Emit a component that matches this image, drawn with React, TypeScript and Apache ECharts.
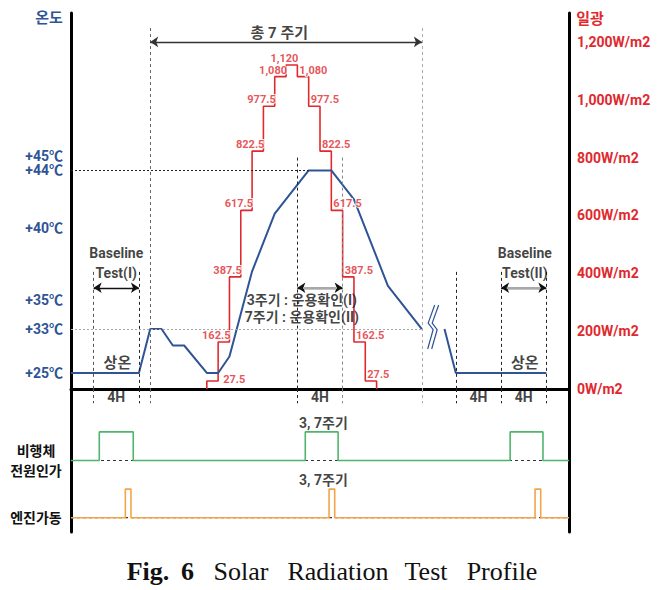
import React, { useEffect, useRef } from 'react';
import * as echarts from 'echarts';

// ---------- data ----------
const X_MAX_HOURS = 44;
const TEMP_TICKS = [25, 33, 35, 40, 44, 45];
const IRR_TICKS = [0, 200, 400, 600, 800, 1000, 1200];

// temperature profile (hours, degC), split by the break mark
const TEMP_A_HOURS = [0, 6, 7, 8, 9, 10, 12, 13, 14, 16, 18, 21, 23, 25, 28, 31];
const TEMP_A_VALUES = [25, 25, 33, 33, 30, 30, 25, 25, 28, 37, 41, 44, 44, 42, 36, 33];
const TEMP_B_HOURS = [33, 34, 42];
const TEMP_B_VALUES = [33, 25, 25];
const BREAK_MARK = [32, 33];

// solar irradiance steps, one per hour
const SOLAR_START_HOUR = 12;
const SOLAR_STEPS = [27.5, 162.5, 387.5, 617.5, 822.5, 977.5, 1080, 1120, 1080, 977.5, 822.5, 617.5, 387.5, 162.5, 27.5];

// signal pulses (start, end hours)
const POWER_PULSES = [[2.5, 5.5], [20.7, 23.6], [38.8, 41.7]];
const ENGINE_PULSES = [[4.8, 5.3], [22.8, 23.3], [41.0, 41.5]];

// time markers (hours) and their top ends on the W/m2 scale
const MARKER_HOURS = [2, 6, 7, 20, 24, 31, 34, 38, 42];
const MARKER_TOPS = [405, 405, 1248, 800, 800, 1248, 405, 405, 405];
const CYCLE_SPAN = [7, 31];
const BASELINE1_SPAN = [2, 6];
const CHECK_SPAN = [20, 24];
const BASELINE2_SPAN = [38, 42];
const FOUR_H_WINDOWS = [[2, 6], [20, 24], [34, 38], [38, 42]];

// ---------- axis break for temperature (25..33 compressed) ----------
const BREAK_TOP = 33;
const BREAK_SCALE = 0.381;
const tempToAxis = (t: number) => (t >= BREAK_TOP ? t : BREAK_TOP - (BREAK_TOP - t) * BREAK_SCALE);
const axisToTemp = (d: number) => (d >= BREAK_TOP ? d : BREAK_TOP - (BREAK_TOP - d) / BREAK_SCALE);
const TEMP_AXIS_MIN = 28.84;
const TEMP_AXIS_MAX = 54.92;

const POWER_LOW = 5, POWER_HIGH = 7, ENGINE_LOW = 1, ENGINE_HIGH = 3;

// ---------- styles ----------
const BLUE = '#2F5496';
const RED = '#E0292E';
const GREEN = '#4FB56C';
const ORANGE = '#F2A44A';
const FONT = "Roboto, 'Noto Sans CJK KR', sans-serif";
const SERIF = "'Liberation Serif', 'DejaVu Serif', serif";

const pulsesToLine = (pulses: number[][], low: number, high: number) => {
  const pts: (number | string)[][] = [[0, low]];
  pulses.forEach(([a, b]) => {
    pts.push([a, low], [a, high], [b, high], [b, low]);
  });
  pts.push([X_MAX_HOURS, low]);
  return pts;
};

export default function App() {
  const ref = useRef<HTMLDivElement>(null);
  useEffect(() => {
    const chart = echarts.init(ref.current!, null, { renderer: 'svg' });

    const tempData: any[] = TEMP_A_HOURS.map((h, i) => [h, tempToAxis(TEMP_A_VALUES[i])]);
    tempData.push([BREAK_MARK[0], '-']);
    TEMP_B_HOURS.forEach((h, i) => tempData.push([h, tempToAxis(TEMP_B_VALUES[i])]));

    const solarData: number[][] = [[SOLAR_START_HOUR, 0]];
    SOLAR_STEPS.forEach((v, i) => solarData.push([SOLAR_START_HOUR + i, v]));
    solarData.push([SOLAR_START_HOUR + SOLAR_STEPS.length, 0]);

    const half = Math.ceil(SOLAR_STEPS.length / 2);
    const solarLabels = SOLAR_STEPS.map((v, i) => {
      if (i === 0) {
        return {
          value: [SOLAR_START_HOUR + 1, v],
          label: { position: 'right', align: 'left', verticalAlign: 'middle', distance: 5, offset: [0, -2] },
        };
      }
      if (i < half) {
        return {
          value: [SOLAR_START_HOUR + i + 1, v],
          label: { position: 'top', align: 'right', distance: 1, offset: [1, 0] },
        };
      }
      return {
        value: [SOLAR_START_HOUR + i, v],
        label: { position: 'top', align: 'left', distance: 1, offset: [2, 0] },
      };
    });

    const dash = (color: string) => ({ color, type: [3, 3], width: 1 });
    const markerColors = ['#555', '#222', '#666', '#222', '#888', '#aaa', '#222', '#222', '#222'];

    const verticals = MARKER_HOURS.map((h, i) => [
      { coord: [h, MARKER_TOPS[i]], lineStyle: dash(markerColors[i]) },
      { coord: [h, 0] },
    ]);
    const verticalsLow = MARKER_HOURS.map((h, i) => [
      { coord: [h, 10], lineStyle: dash(markerColors[i]) },
      { coord: [h, 9] },
    ]);

    const arrow = (span: number[], y: number, color: string) => [
      { coord: [span[0], y], symbol: 'arrow', symbolSize: 8, lineStyle: { color, width: 1.3, type: 'solid' } },
      { coord: [span[1], y], symbol: 'arrow', symbolSize: 8 },
    ];
    const shaft = (span: number[], y: number, color: string) => [
      { coord: [span[0] + 0.5, y], lineStyle: { color, width: 2, type: 'solid' } },
      { coord: [span[1] - 0.5, y] },
    ];

    const textStyle = { color: '#111', fontWeight: 'bold', fontSize: 14, fontFamily: FONT };

    const upperTexts = [
      { name: '총 7 주기', value: [18.4, 1231], label: { fontSize: 15 } },
      { name: 'Baseline\nTest(I)', value: [4, 436], label: { lineHeight: 20 } },
      { name: 'Baseline\nTest(II)', value: [40.1, 436], label: { lineHeight: 20 } },
      { name: '3주기 : 운용확인(I)\n7주기 : 운용확인(II)', value: [20.4, 278], label: { lineHeight: 17 } },
      { name: '상온', value: [4.1, 90], label: { fontSize: 15 } },
      { name: '상온', value: [40.1, 90], label: { fontSize: 15 } },
    ];
    const lowerTexts: any[] = FOUR_H_WINDOWS.map((w) => ({ name: '4H', value: [(w[0] + w[1]) / 2, 9.44] }));
    lowerTexts.push({ name: '3, 7주기', value: [22.3, 7.62] });
    lowerTexts.push({ name: '3, 7주기', value: [22.3, 3.64] });

    const option: any = {
      animation: false,
      backgroundColor: '#fff',
      grid: [
        { left: 71, right: 96, top: 13, height: 376 },
        { left: 71, right: 96, top: 389, height: 143 },
      ],
      xAxis: [
        {
          gridIndex: 0, type: 'value', min: 0, max: X_MAX_HOURS,
          axisLine: { show: true, onZero: false, lineStyle: { color: '#000', width: 3 } },
          axisTick: { show: false }, axisLabel: { show: false }, splitLine: { show: false },
        },
        { gridIndex: 1, type: 'value', min: 0, max: X_MAX_HOURS, show: false },
      ],
      yAxis: [
        {
          gridIndex: 0, type: 'value', position: 'left', min: TEMP_AXIS_MIN, max: TEMP_AXIS_MAX,
          axisLine: { show: true, onZero: false, lineStyle: { color: '#000', width: 3 } },
          axisTick: { show: false }, splitLine: { show: false },
          axisLabel: {
            customValues: TEMP_TICKS.map(tempToAxis),
            formatter: (v: number) => '+' + Math.round(axisToTemp(v)) + '℃',
            color: BLUE, fontWeight: 'bold', fontSize: 14, fontFamily: FONT, margin: 8,
          },
        },
        {
          gridIndex: 0, type: 'value', position: 'right', min: 0, max: 1300,
          axisLine: { show: true, onZero: false, lineStyle: { color: '#000', width: 3 } },
          axisTick: { show: false }, splitLine: { show: false },
          axisLabel: {
            customValues: IRR_TICKS,
            formatter: (v: number) => v.toLocaleString('en-US') + 'W/m2',
            color: RED, fontWeight: 'bold', fontSize: 14, fontFamily: FONT, margin: 8,
          },
        },
        {
          gridIndex: 1, type: 'value', position: 'left', min: 0, max: 10,
          axisLine: { show: true, onZero: false, lineStyle: { color: '#000', width: 3 } },
          axisTick: { show: false }, splitLine: { show: false },
          axisLabel: {
            customValues: [ENGINE_LOW, POWER_LOW],
            formatter: (v: number) => (v === POWER_LOW ? '비행체\n전원인가' : '엔진가동'),
            color: '#111', fontWeight: 'bold', fontSize: 14, fontFamily: FONT,
            align: 'center', margin: 35, lineHeight: 20,
          },
        },
        {
          gridIndex: 1, type: 'value', position: 'right', min: 0, max: 10,
          axisLine: { show: true, onZero: false, lineStyle: { color: '#000', width: 3 } },
          axisTick: { show: false }, splitLine: { show: false }, axisLabel: { show: false },
        },
      ],
      series: [
        {
          type: 'line', name: 'reference lines', xAxisIndex: 0, yAxisIndex: 0, data: [],
          markLine: {
            silent: true, symbol: 'none', label: { show: false },
            data: [
              [{ coord: [0, tempToAxis(44)], lineStyle: { color: '#222', type: [2, 2], width: 1 } }, { coord: [21, tempToAxis(44)] }],
              [{ coord: [0, tempToAxis(33)], lineStyle: { color: '#aaa', type: [2, 2], width: 1 } }, { coord: [31, tempToAxis(33)] }],
            ],
          },
        },
        {
          type: 'line', name: '일광', xAxisIndex: 0, yAxisIndex: 1, step: 'end',
          data: solarData, showSymbol: false, lineStyle: { color: RED, width: 1.6 }, z: 3,
          markLine: {
            silent: true, symbol: 'none', label: { show: false },
            data: [
              ...verticals,
              arrow(CYCLE_SPAN, 1200, '#333'),
              arrow(BASELINE1_SPAN, 350, '#111'),
              arrow(CHECK_SPAN, 350, '#111'),
              arrow(BASELINE2_SPAN, 350, '#111'),
              shaft(CHECK_SPAN, 350, '#a8a8a8'),
              shaft(BASELINE2_SPAN, 350, '#a8a8a8'),
            ],
          },
        },
        {
          type: 'line', name: '온도', xAxisIndex: 0, yAxisIndex: 0,
          data: tempData, showSymbol: false, connectNulls: false,
          lineStyle: { color: BLUE, width: 2 }, z: 4,
        },
        {
          type: 'custom', name: 'break', xAxisIndex: 0, yAxisIndex: 0,
          data: [[BREAK_MARK[0], tempToAxis(BREAK_MARK[1])]], z: 4, silent: true,
          renderItem: (_p: any, api: any) => {
            const c = api.coord([api.value(0), api.value(1)]);
            const shape = [[3.5, -24], [-3, -6], [2, 0.5], [-3.5, 20]];
            return {
              type: 'group',
              children: [-2, 2].map((dx) => ({
                type: 'polyline',
                shape: { points: shape.map(([x, y]) => [c[0] + x + dx, c[1] + y]) },
                style: { stroke: BLUE, lineWidth: 1.2, fill: null },
              })),
            };
          },
        },
        {
          type: 'scatter', name: 'solar labels', xAxisIndex: 0, yAxisIndex: 1, symbolSize: 0, silent: true, z: 5,
          data: solarLabels,
          label: {
            show: true, color: RED, fontSize: 11, fontWeight: 'bold', fontFamily: FONT,
            textBorderColor: '#fff', textBorderWidth: 2,
            formatter: (p: any) => p.value[1].toLocaleString('en-US'),
          },
        },
        {
          type: 'scatter', name: 'notes', xAxisIndex: 0, yAxisIndex: 1, symbolSize: 0, silent: true, z: 5,
          data: upperTexts,
          label: { show: true, position: 'inside', formatter: '{b}', ...textStyle },
        },
        {
          type: 'line', name: 'signal baselines', xAxisIndex: 1, yAxisIndex: 2, showSymbol: false,
          data: [[0, POWER_LOW], [X_MAX_HOURS, POWER_LOW], [X_MAX_HOURS, '-'], [0, ENGINE_LOW], [X_MAX_HOURS, ENGINE_LOW]],
          lineStyle: { color: '#333', width: 1.2, type: [3, 3] },
          markLine: { silent: true, symbol: 'none', label: { show: false }, data: verticalsLow },
        },
        {
          type: 'line', name: '비행체 전원인가', xAxisIndex: 1, yAxisIndex: 2, showSymbol: false,
          data: pulsesToLine(POWER_PULSES, POWER_LOW, POWER_HIGH), lineStyle: { color: GREEN, width: 1.6 },
        },
        {
          type: 'line', name: '엔진가동', xAxisIndex: 1, yAxisIndex: 2, showSymbol: false,
          data: pulsesToLine(ENGINE_PULSES, ENGINE_LOW, ENGINE_HIGH), lineStyle: { color: ORANGE, width: 1.6 },
        },
        {
          type: 'scatter', name: 'lower notes', xAxisIndex: 1, yAxisIndex: 2, symbolSize: 0, silent: true,
          data: lowerTexts,
          label: { show: true, position: 'inside', formatter: '{b}', ...textStyle },
        },
      ],
      graphic: [
        { type: 'text', x: 49, y: 18, style: { text: '온도', fill: BLUE, font: `bold 15px ${FONT}`, textAlign: 'center', textVerticalAlign: 'middle' } },
        { type: 'text', x: 590, y: 19, style: { text: '일광', fill: RED, font: `bold 15px ${FONT}`, textAlign: 'center', textVerticalAlign: 'middle' } },
        ...[
          ['Fig.', 148, true], ['6', 187.5, true], ['Solar', 241, false],
          ['Radiation', 338, false], ['Test', 426, false], ['Profile', 502, false],
        ].map(([t, x, b]) => ({
          type: 'text', x, y: 571,
          style: {
            text: t, fill: '#111', font: `${b ? 'bold ' : ''}26px ${SERIF}`,
            textAlign: 'center', textVerticalAlign: 'middle',
          },
        })),
      ],
    };

    chart.setOption(option);
    return () => chart.dispose();
  }, []);

  return <div ref={ref} style={{ position: 'absolute', left: 0, top: 0, width: 665, height: 590 }} />;
}
